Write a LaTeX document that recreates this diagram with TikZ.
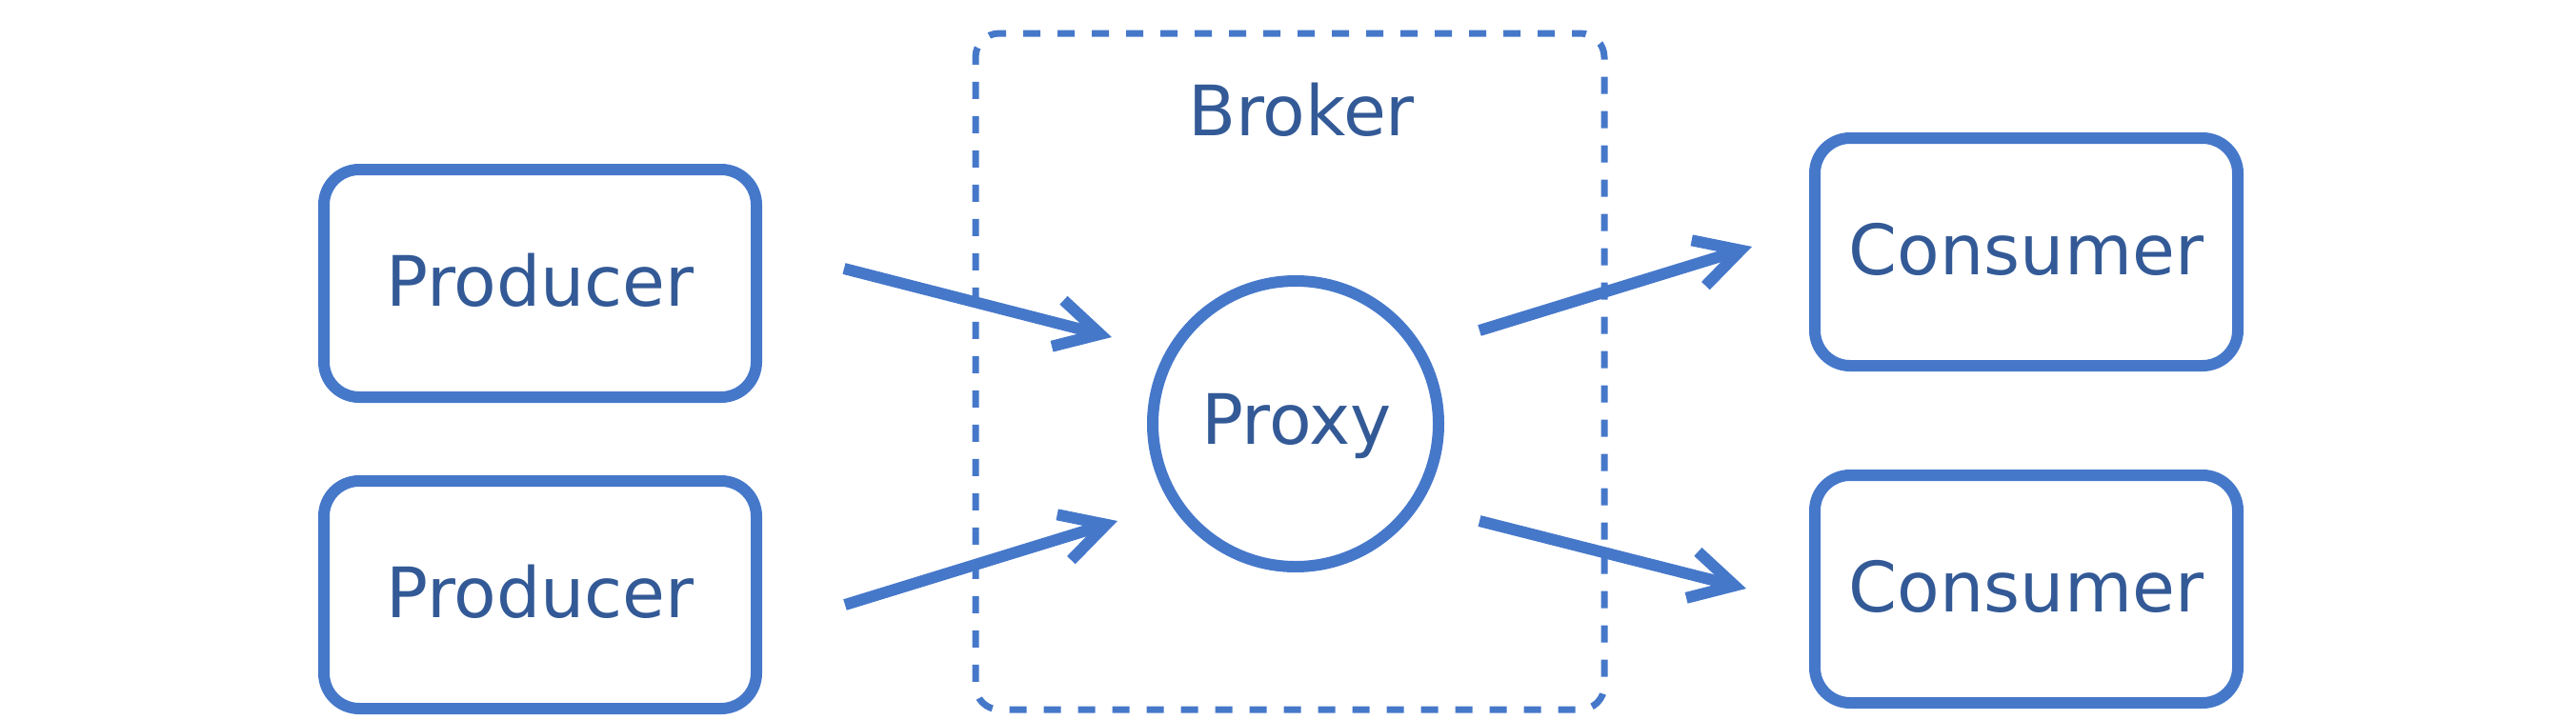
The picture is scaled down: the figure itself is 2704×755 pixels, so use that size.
\documentclass[tikz,border=0pt]{standalone}
\usepackage{fontspec}
\setmainfont{DejaVu Sans}
\usetikzlibrary{arrows.meta}
\definecolor{lineblue}{HTML}{4678CA}
\definecolor{textblue}{HTML}{335A96}
\tikzset{
  lbl/.style={text=textblue, font=\fontsize{73pt}{88pt}\selectfont, inner sep=0pt, text height=53pt},
  endbox/.style={lbl, draw=lineblue, line width=12pt, rectangle, rounded corners=37pt,
    minimum height=239pt, text depth=6pt},
  proxybox/.style={draw=lineblue, line width=12pt, circle, minimum size=300pt, inner sep=0pt},
  brokerbox/.style={draw=lineblue, line width=7pt, rectangle, rounded corners=25pt,
    dash pattern=on 18pt off 18pt, dash phase=9pt, inner sep=0pt,
    minimum width=660pt, minimum height=710pt},
  flow/.style={draw=lineblue, line width=12pt,
    -{Straight Barb[length=46pt, width=50pt, line width=12pt]}}
}
\begin{document}
\begin{tikzpicture}[x=1pt, y=-1pt]
\useasboundingbox (0,0) rectangle (2704,755);
\node[brokerbox] (broker) at (1354,390) {};
\node[lbl, text depth=0pt] (brokerlbl) at (1366,115.5) {Broker};
\node[endbox, minimum width=454pt] (p1) at (567,297.5) {Producer};
\node[endbox, minimum width=454pt] (p2) at (567,624.5) {Producer};
\node[endbox, minimum width=444pt] (c1) at (2127,264.5) {Consumer};
\node[endbox, minimum width=444pt] (c2) at (2127,618.5) {Consumer};
\node[proxybox] (proxy) at (1360,445) {};
\node[lbl, text depth=0pt] (proxylbl) at (1361,440) {Proxy};
\coordinate (a1s) at (886,282);
\coordinate (a1e) at (1167,354);
\coordinate (a2s) at (887,635);
\coordinate (a2e) at (1173,547);
\coordinate (a3s) at (1553,347);
\coordinate (a3e) at (1839,259);
\coordinate (a4s) at (1553,547);
\coordinate (a4e) at (1833,618);
\draw[flow] (a1s) -- (a1e);
\draw[flow] (a2s) -- (a2e);
\draw[flow] (a3s) -- (a3e);
\draw[flow] (a4s) -- (a4e);
\end{tikzpicture}
\end{document}
